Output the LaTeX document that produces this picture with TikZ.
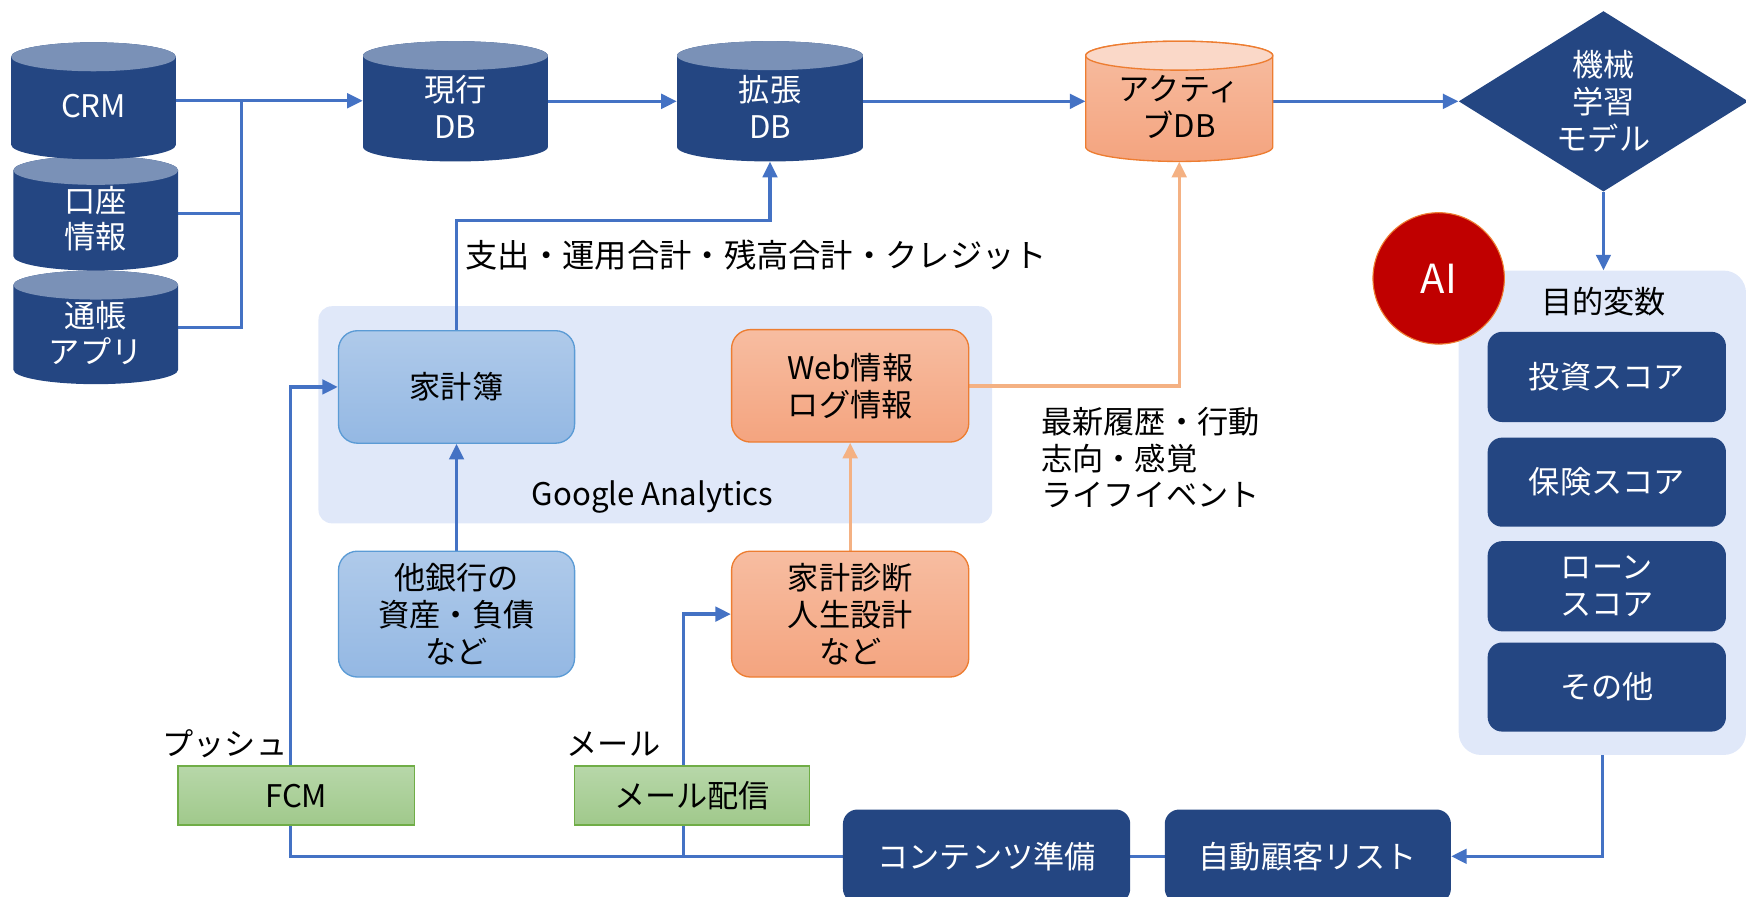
\documentclass[tikz,border=0pt]{standalone}
\usepackage{fontspec}
\setmainfont{Noto Sans CJK JP}
\usetikzlibrary{shapes.geometric,arrows.meta,calc}
\definecolor{dkblue}{HTML}{244682}
\definecolor{cyltop}{HTML}{7A91B7}
\definecolor{lnblue}{HTML}{4472C4}
\definecolor{lnorange}{HTML}{F4B183}
\definecolor{pnl}{HTML}{E0E8F9}
\definecolor{lbtop}{HTML}{AFCAEA}
\definecolor{lbbot}{HTML}{94B8E3}
\definecolor{lbdraw}{HTML}{5B9BD5}
\definecolor{ortop}{HTML}{F7BDA1}
\definecolor{orbot}{HTML}{F4A47F}
\definecolor{ordraw}{HTML}{ED7D31}
\definecolor{orcaptop}{HTML}{FAD8C8}
\definecolor{grtop}{HTML}{B7D7A9}
\definecolor{grbot}{HTML}{A0C98B}
\definecolor{grdraw}{HTML}{70AD47}
\definecolor{aired}{HTML}{C00000}
\pgfdeclarelayer{back}
\pgfdeclarelayer{lines}
\pgfsetlayers{back,lines,main}
\tikzset{
  txt/.style={font=\fontsize{28}{33}\selectfont, align=center, inner sep=0pt},
  darkbox/.style={txt, rectangle, rounded corners=13pt, fill=dkblue, text=white},
  bluebox/.style={txt, rectangle, rounded corners=17pt, top color=lbtop, bottom color=lbbot, draw=lbdraw, line width=1.2pt},
  orbox/.style={txt, rectangle, rounded corners=17pt, top color=ortop, bottom color=orbot, draw=ordraw, line width=1.2pt},
  grbox/.style={txt, rectangle, top color=grtop, bottom color=grbot, draw=grdraw, line width=1.2pt},
  panelbox/.style={rectangle, fill=pnl, inner sep=0pt},
  wire/.style={draw=lnblue, line width=3pt},
  arr/.style={wire, -{Triangle[length=14pt,width=13pt]}},
  oarr/.style={draw=lnorange, line width=3pt, -{Triangle[length=14pt,width=13pt]}},
  cylnode/.style={rectangle, inner sep=0pt},
  darkbody/.style={fill=dkblue},
  darkcap/.style={fill=cyltop},
  darktext/.style={text=white},
  orbody/.style={top color=ortop, bottom color=orbot, draw=ordraw, line width=1.2pt},
  orcap/.style={fill=orcaptop, draw=ordraw, line width=1.2pt},
  ortext/.style={text=black},
}
% name, x1, y1, x2, y2, text, kind
\newcommand\dbcyl[7]{%
  \pgfmathsetmacro\cylrx{(#4-#2)/2}%
  \pgfmathsetmacro\cylcx{(#2+#4)/2}%
  \pgfmathsetmacro\cylcy{(#3+#5)/2}%
  \path[#7body] (#2,#3+13) -- (#2,#5-13) arc[start angle=180,end angle=360,x radius=\cylrx pt,y radius=13pt] -- (#4,#3+13) arc[start angle=0,end angle=180,x radius=\cylrx pt,y radius=13pt] -- cycle;
  \path[#7cap] (\cylcx,#3+13) ellipse[x radius=\cylrx pt,y radius=13pt];
  \node[cylnode, minimum width={(#4-#2)*1pt}, minimum height={(#5-#3)*1pt}] (#1) at (\cylcx,\cylcy) {};
  \node[txt, #7text] (#1-t) at (\cylcx,\cylcy+5) {#6};
}
\begin{document}
\begin{tikzpicture}[x=1pt,y=-1pt]
\useasboundingbox (0,0) rectangle (1568,804.66);

\begin{pgfonlayer}{back}
\node[panelbox, rounded corners=12pt, minimum width=605pt, minimum height=195pt] (ga) at (588.5,372.5) {};
\node[panelbox, rounded corners=20pt, minimum width=258pt, minimum height=435pt] (mk) at (1439,460.5) {};
\end{pgfonlayer}

% cylinders
\dbcyl{tsucho}{12}{243}{160}{345}{通帳\\アプリ}{dark}
\dbcyl{kouza}{12}{140}{160}{243}{口座\\情報}{dark}
\dbcyl{crm}{10}{38}{158}{143}{CRM}{dark}
\dbcyl{genko}{326}{37}{492}{145}{現行\\DB}{dark}
\dbcyl{kakucho}{608}{37}{775}{145}{拡張\\DB}{dark}
\dbcyl{active}{975}{37}{1143}{145}{アクティ\\ブDB}{or}

% diamond
\node[diamond, fill=dkblue, minimum width=260pt, minimum height=162pt, txt, text=white, aspect=1.6] (ml) at (1440,91) {機械\\学習\\モデル};

% Google Analytics contents
\node[bluebox, minimum width=212pt, minimum height=101pt] (kakeibo) at (410,347.5) {家計簿};
\node[orbox, minimum width=213pt, minimum height=101pt] (web) at (763.5,346.5) {Web情報\\ログ情報};
\node[txt] (galbl) at (586,446) {Google Analytics};
\node[bluebox, minimum width=212pt, minimum height=113pt] (tagin) at (410,551.5) {他銀行の\\資産・負債\\など};
\node[orbox, minimum width=213pt, minimum height=113pt] (shindan) at (763.5,551.5) {家計診断\\人生設計\\など};

% delivery
\node[grbox, minimum width=212pt, minimum height=53pt] (fcm) at (266,714.5) {FCM};
\node[grbox, minimum width=211pt, minimum height=53pt] (mail) at (621.5,714.5) {メール配信};
\node[txt] (push) at (202,668) {プッシュ};
\node[txt] (maillbl) at (551,668) {メール};
\node[darkbox, minimum width=258pt, minimum height=84pt] (content) at (886,769) {コンテンツ準備};
\node[darkbox, minimum width=257pt, minimum height=84pt] (autolist) at (1174.5,769) {自動顧客リスト};

% objective variables
\node[txt] (mktitle) at (1440,271) {目的変数};
\node[darkbox, minimum width=214pt, minimum height=81pt] (toushi) at (1443,338.5) {投資スコア};
\node[darkbox, minimum width=214pt, minimum height=80pt] (hoken) at (1443,433) {保険スコア};
\node[darkbox, minimum width=214pt, minimum height=81pt] (loan) at (1443,526.5) {ローン\\スコア};
\node[darkbox, minimum width=214pt, minimum height=80pt] (sonota) at (1443,617) {その他};
\node[circle, fill=aired, draw=ordraw, line width=1pt, minimum size=118pt, inner sep=0pt, text=white, font=\fontsize{36}{40}\selectfont] (ai) at (1292,250) {AI};

% edge labels
\node[txt, font=\fontsize{29}{33}\selectfont, anchor=west] (lbl1) at (418,229) {支出・運用合計・残高合計・クレジット};
\node[txt, anchor=west, align=left] (lbl2) at (935,411) {最新履歴・行動\\志向・感覚\\ライフイベント};

% connectors
\begin{pgfonlayer}{lines}
\coordinate (j1) at (217,90.5);
\draw[wire] (kouza.east) -- (kouza.east -| j1);
\draw[wire] (tsucho.east) -| (j1);
\draw[arr] (crm.east) -- (crm.east -| genko.west);
\draw[arr] (genko.east) -- (kakucho.west);
\draw[arr] (kakucho.east) -- (active.west);
\draw[arr] (active.east) -- (active.east -| ml.west);
\coordinate (k1) at (410,198);
\draw[arr] (kakeibo.north) |- (k1 -| kakucho.south) -- (kakucho.south);
\draw[oarr] (web.east) -| (active.south);
\draw[arr] (tagin.north) -- (kakeibo.south);
\draw[oarr] (shindan.north) -- (web.south);
\draw[arr] (ml.south) -- (ml.south |- mk.north);
\draw[arr] (mk.south) |- (autolist.east);
\draw[wire] (autolist.west) -- (content.east);
\coordinate (b1) at (261,769);
\coordinate (b2) at (614,769);
\draw[arr] (content.west) -- (b1) |- (kakeibo.west);
\draw[arr] (b2) |- (shindan.west);
\end{pgfonlayer}
\end{tikzpicture}
\end{document}
